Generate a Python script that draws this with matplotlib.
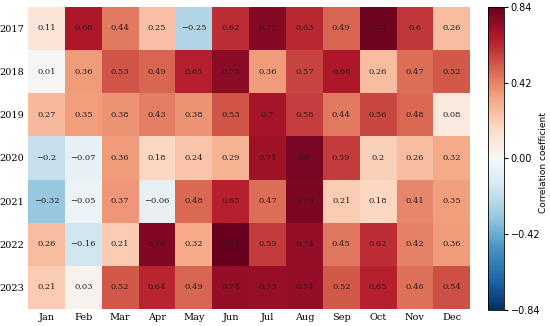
import matplotlib
matplotlib.use("Agg")
import matplotlib.pyplot as plt
import numpy as np

months = ["Jan", "Feb", "Mar", "Apr", "May", "Jun", "Jul", "Aug", "Sep", "Oct", "Nov", "Dec"]
years = ["2017", "2018", "2019", "2020", "2021", "2022", "2023"]
r2017 = [0.11, 0.68, 0.44, 0.25, -0.25, 0.62, 0.77, 0.63, 0.49, 0.82, 0.6, 0.26]
r2018 = [0.01, 0.36, 0.53, 0.49, 0.65, 0.75, 0.36, 0.57, 0.68, 0.26, 0.47, 0.52]
r2019 = [0.27, 0.35, 0.38, 0.43, 0.38, 0.53, 0.7, 0.58, 0.44, 0.56, 0.48, 0.08]
r2020 = [-0.2, -0.07, 0.36, 0.18, 0.24, 0.29, 0.71, 0.8, 0.59, 0.2, 0.26, 0.32]
r2021 = [-0.32, -0.05, 0.37, -0.06, 0.48, 0.65, 0.47, 0.79, 0.21, 0.18, 0.41, 0.35]
r2022 = [0.26, -0.16, 0.21, 0.78, 0.32, 0.84, 0.59, 0.74, 0.45, 0.62, 0.42, 0.36]
r2023 = [0.21, 0.03, 0.52, 0.64, 0.49, 0.74, 0.73, 0.74, 0.52, 0.65, 0.46, 0.54]
cbar_ticks = [-0.84, -0.42, 0.00, 0.42, 0.84]

data = np.array([r2017, r2018, r2019, r2020, r2021, r2022, r2023])

fig = plt.figure(figsize=(5.5, 3.26), dpi=100)
ax = fig.add_axes([0.051, 0.052, 0.804, 0.927])
cax = fig.add_axes([0.887, 0.049, 0.029, 0.93])

vmax = 0.84
im = ax.pcolormesh(data, cmap="RdBu_r", vmin=-vmax, vmax=vmax)
ax.set_xlim(0, len(months))
ax.set_ylim(len(years), 0)
ax.set_xticks(np.arange(len(months)) + 0.5)
ax.set_xticklabels(months, family="DejaVu Serif", fontsize=7)
ax.set_yticks(np.arange(len(years)) + 0.5)
ax.set_yticklabels(years, family="DejaVu Serif", fontsize=7)
ax.tick_params(length=0, pad=3)
for s in ax.spines.values():
    s.set_visible(False)

for i in range(data.shape[0]):
    for j in range(data.shape[1]):
        v = data[i, j]
        ax.text(j + 0.5, i + 0.5, f"{v:g}".replace("-", "\u2212"), ha="center", va="center",
                fontsize=6, family="DejaVu Serif", color="#2a1a1a")

cb = fig.colorbar(im, cax=cax)
cb.set_ticks(cbar_ticks)
cb.set_ticklabels([f"{t:.2f}".replace("-", "\u2212") for t in cbar_ticks])
cb.ax.tick_params(labelsize=7, length=3, pad=2)
cb.outline.set_linewidth(0.6)
fig.text(543 / 550, 0.5, "Correlation coefficient", rotation=90, ha="center", va="center",
         fontsize=6.5)

fig.savefig("out.png", dpi=100)
